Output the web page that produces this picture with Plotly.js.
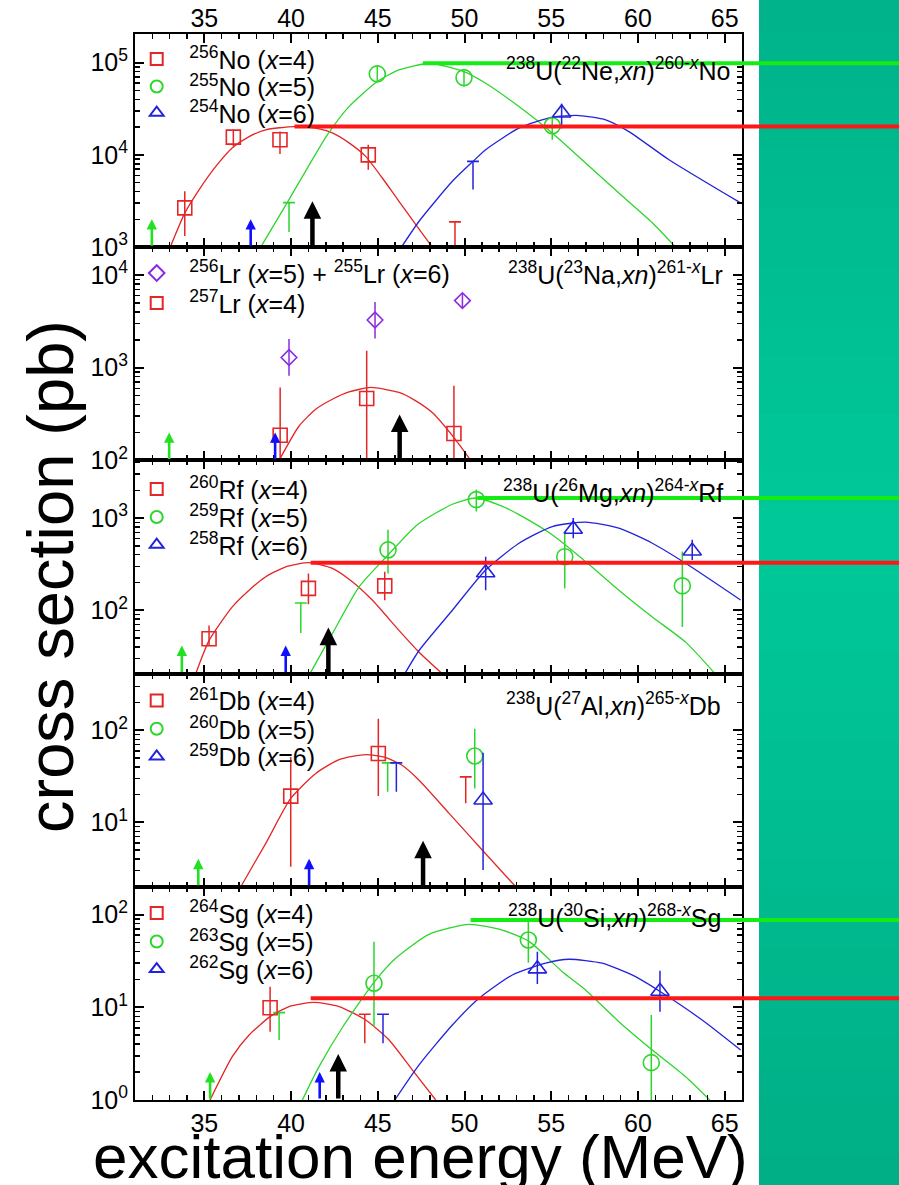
<!DOCTYPE html>
<html><head><meta charset="utf-8">
<script src="https://cdn.plot.ly/plotly-3.0.1.min.js"></script>
<style>html,body{margin:0;padding:0;background:#fff}#chart{width:899px;height:1185px}</style>
</head><body><div id="chart"></div>
<script>
// ================= DATA =================
// x axis (excitation energy, MeV)
const xTickVals = [35, 40, 45, 50, 55, 60, 65];

// Panel 1: 238U(22Ne,xn)260-xNo
const no256_E = [33.87, 36.67, 39.36, 44.45];
const no256_sig = [2670, 15600, 14600, 10000];
const no256_hi = [4030, 18700, 17900, 12900];
const no256_lo = [1320, 12400, 10200, 6920];
const no256_limE = [49.45], no256_lim = [1880], no256_limLo = [900];
const no255_E = [44.97, 49.97, 55.06];
const no255_sig = [75500, 68800, 20700];
const no255_hi = [90600, 82000, 25100];
const no255_lo = [62400, 55100, 14600];
const no255_limE = [39.88], no255_lim = [3040], no255_limLo = [1460];
const no254_E = [55.6];
const no254_sig = [28500];
const no254_hi = [35800];
const no254_lo = [19500];
const no254_limE = [50.49], no254_lim = [8510], no254_limLo = [4210];
const no256_fitE = [33.03, 33.87, 34.7, 35.66, 36.6, 37.58, 38.54, 40.17, 41.42, 42.38, 43.34, 44.3, 45.26, 46.22, 47.19, 48.14];
const no256_fit = [1000, 2340, 4210, 7520, 11900, 15800, 18700, 20300, 19500, 17300, 13500, 9640, 5620, 3140, 1760, 1000];
const no255_fitE = [38.25, 39.88, 42.09, 43.34, 44.97, 46.22, 48.0, 49.97, 51.22, 53.14, 55.06, 56.98, 58.9, 60.83, 62.17];
const no255_fit = [1000, 3280, 16500, 33400, 62400, 83400, 98400, 80000, 59800, 33400, 17300, 8170, 3870, 1840, 1000];
const no254_fitE = [46.36, 47.38, 49.3, 50.49, 51.22, 53.14, 55.06, 56.6, 58.14, 59.48, 61.79, 65.92];
const no254_fit = [1000, 1910, 5180, 8510, 11400, 19500, 25700, 26700, 24000, 17900, 8870, 3020];
const no256_maxE = 40.2, no256_max = 20300;
const no255_maxE = 47.6, no255_max = 98400;
const no_arrowE = [31.97, 37.67, 41.23];

// Panel 2: 238U(23Na,xn)261-xLr
const lr256_E = [39.88, 44.84, 49.88];
const lr256_sig = [1290, 3270, 5300];
const lr256_hi = [2040, 5100, 6300];
const lr256_lo = [817, 2070, 4460];
const lr257_E = [39.37, 44.36, 49.39];
const lr257_sig = [187, 466, 195];
const lr257_hi = [612, 1520, 637];
const lr257_lo = [60, 60, 60];
const lr257_fitE = [39.31, 40.46, 41.42, 42.38, 43.34, 44.59, 46.22, 47.19, 48.14, 49.39, 50.36];
const lr257_fit = [100, 235, 356, 457, 548, 612, 541, 439, 328, 176, 100];
const lr_arrowE = [32.97, 39.08, 46.26];

// Panel 3: 238U(26Mg,xn)264-xRf
const rf260_E = [35.27, 41.0, 45.4];
const rf260_sig = [49.1, 172.5, 184];
const rf260_hi = [68.5, 251, 262];
const rf260_lo = [41.5, 116, 128];
const rf259_E = [45.59, 50.68, 55.78, 62.56];
const rf259_sig = [451, 1585, 381, 184];
const rf259_hi = [745, 2040, 714, 433];
const rf259_lo = [251, 1180, 172, 65.8];
const rf259_limE = [40.56], rf259_lim = [120], rf259_limLo = [56.5];
const rf258_E = [51.22, 56.27, 63.13];
const rf258_sig = [255, 757, 439];
const rf258_hi = [381, 1000, 580];
const rf258_lo = [165, 605, 351];
const rf260_fitE = [34.5, 35.27, 36.61, 37.58, 38.54, 39.69, 41.04, 42.38, 43.53, 44.68, 46.22, 47.38, 48.73];
const rf260_fit = [20.4, 47.1, 109, 165, 231, 296, 328, 285, 204, 129, 60.5, 35.1, 20.4];
const rf259_fitE = [41.08, 42.38, 43.92, 45.59, 47.3, 49.3, 50.65, 52.18, 53.14, 55.06, 56.98, 58.9, 60.83, 62.75, 64.38];
const rf259_fit = [20.4, 55.7, 179, 398, 851, 1410, 1650, 1340, 1090, 658, 337, 165, 84.5, 45.1, 21.2];
const rf258_fitE = [46.55, 47.38, 49.3, 51.22, 53.14, 55.06, 56.98, 58.9, 60.83, 62.75, 65.92];
const rf258_fit = [20.4, 36.6, 100, 273, 533, 809, 904, 776, 533, 323, 129];
const rf260_maxE = 41.13, rf260_max = 328;
const rf259_maxE = 50.74, rf259_max = 1650;
const rf_arrowE = [33.70, 39.69, 42.15];

// Panel 4: 238U(27Al,xn)265-xDb
const db261_E = [39.98, 45.03];
const db261_sig = [19.3, 56];
const db261_hi = [51.4, 134];
const db261_lo = [3.3, 19.3];
const db261_limE = [50.07], db261_lim = [31.2], db261_limLo = [16.1];
const db260_E = [50.59];
const db260_sig = [52.7];
const db260_hi = [104];
const db260_lo = [23.3];
const db260_limE = [45.57], db260_lim = [44.3], db260_limLo = [21.5];
const db259_E = [51.07];
const db259_sig = [17.5];
const db259_hi = [57.3];
const db259_lo = [3.04];
const db259_limE = [46.07], db259_lim = [44.3], db259_limLo = [21.5];
const db261_fitE = [37.1, 38.54, 39.98, 41.42, 42.77, 44.3, 45.46, 46.4, 47.38, 49.1, 51.02, 52.95];
const db261_fit = [2.0, 5.92, 18.2, 34.0, 48.2, 54.6, 50.6, 41.7, 28.7, 12.6, 5.01, 2.0];
const db_arrowE = [34.65, 41.04, 47.61];

// Panel 5: 238U(30Si,xn)268-xSg
const sg264_E = [38.79];
const sg264_sig = [9.9];
const sg264_hi = [16.7];
const sg264_lo = [5.46];
const sg264_limE = [44.25], sg264_lim = [8.4], sg264_limLo = [4.09];
const sg263_E = [44.78, 53.68, 60.77];
const sg263_sig = [18.2, 53.2, 2.53];
const sg263_hi = [51, 83.8, 8.26];
const sg263_lo = [6.18, 30.3, 0.5];
const sg263_limE = [39.31], sg263_lim = [8.77], sg263_limLo = [4.44];
const sg262_E = [54.2, 61.27];
const sg262_sig = [26.0, 14.9];
const sg262_hi = [39.8, 24.8];
const sg262_lo = [17.8, 8.98];
const sg262_limE = [45.3], sg262_lim = [8.4], sg262_limLo = [4.09];
const sg264_fitE = [35.33, 36.61, 37.58, 38.79, 39.88, 41.32, 42.77, 44.3, 45.65, 46.99, 48.34];
const sg264_fit = [1.0, 2.93, 5.02, 7.93, 10.2, 11.3, 10.2, 7.29, 4.44, 2.11, 1.0];
const sg263_fitE = [40.65, 41.61, 43.05, 44.78, 46.03, 47.95, 50.26, 52.18, 53.74, 55.64, 56.98, 58.9, 60.83, 62.75, 64.14];
const sg263_fit = [1.0, 2.29, 6.44, 18.6, 33.8, 61.2, 78.5, 68.2, 51.1, 24.2, 15.4, 7.0, 3.46, 1.78, 1.0];
const sg262_fitE = [45.98, 47.38, 49.3, 50.84, 52.76, 54.68, 56.02, 57.94, 59.86, 61.3, 63.7, 65.92];
const sg262_fit = [1.0, 2.39, 6.44, 12.5, 22.3, 29.9, 33.0, 29.9, 21.4, 14.7, 7.29, 3.46];
const sg264_maxE = 41.13, sg264_max = 12.5;
const sg263_maxE = 50.35, sg263_max = 87.5;
const sg_arrowE = [35.33, 41.65, 42.72];

// y tick values / labels per panel
const yTickVals1 = [1e3, 1e4, 1e5], yTickText1 = ['10<sup>3</sup>', '10<sup>4</sup>', '10<sup>5</sup>'];
const yTickVals2 = [1e2, 1e3, 1e4], yTickText2 = ['10<sup>2</sup>', '10<sup>3</sup>', '10<sup>4</sup>'];
const yTickVals3 = [1e2, 1e3], yTickText3 = ['10<sup>2</sup>', '10<sup>3</sup>'];
const yTickVals4 = [1e1, 1e2], yTickText4 = ['10<sup>1</sup>', '10<sup>2</sup>'];
const yTickVals5 = [1, 1e1, 1e2], yTickText5 = ['10<sup>0</sup>', '10<sup>1</sup>', '10<sup>2</sup>'];

// ================= STYLE / LAYOUT =================
const FONT = 'Arial, "Liberation Sans", Helvetica, sans-serif';
const RED = '#e32626', GREEN = '#2cd62c', BLUE = '#2323dc', PURPLE = '#8a2be2';
const RED_BAR = '#ff1616', GREEN_BAR = '#14ec14';
const ARROW_GREEN = '#22e022', ARROW_BLUE = '#1010ff', ARROW_BLACK = '#000000';
const W = 899, H = 1185, ML = 135, MR = 0, MT = 34, MB = 85, PLOT_RIGHT = 742;
const plotFrac = (PLOT_RIGHT - ML) / (W - ML - MR);
const xRange = [31, 66];
const x6Range = [xRange[0], xRange[0] + (xRange[1] - xRange[0]) / plotFrac];
const yDomains = [[0.8, 1], [0.6, 0.8], [0.4, 0.6], [0.2, 0.4], [0, 0.2]];
const yRanges = [[3, 5.31], [2, 4.30], [1.313, 3.625], [0.30, 2.617], [0, 2.30]];
const paperH = H - MT - MB, paperW = W - ML - MR;
const px2py = p => (H - MB - p) / paperH;
const px2px = p => (p - ML) / paperW;

const xa = k => k === 1 ? 'x' : 'x' + k;
const ya = k => k === 1 ? 'y' : 'y' + k;
const lg = k => k === 1 ? 'legend' : 'legend' + k;

function pts(k, E, sig, hi, lo, name, sym, size, color, legK) {
  return {
    type: 'scatter', mode: 'markers', x: E, y: sig, name: name,
    xaxis: xa(k), yaxis: ya(k), legend: lg(legK), showlegend: true,
    marker: { symbol: sym, size: size, color: color, line: { color: color, width: 1.6 } },
    error_y: {
      type: 'data', symmetric: false,
      array: hi.map((h, i) => h - sig[i]),
      arrayminus: lo.map((l, i) => sig[i] - l),
      width: 0, thickness: 1.5, color: color
    }
  };
}
function lim(k, E, v, lo, color) {
  return {
    type: 'scatter', mode: 'markers', x: E, y: v, xaxis: xa(k), yaxis: ya(k), showlegend: false,
    marker: { symbol: 'line-ew', size: 8.5, color: color, line: { color: color, width: 1.6 } },
    error_y: {
      type: 'data', symmetric: false, array: E.map(() => 0),
      arrayminus: lo.map((l, i) => v[i] - l), width: 0, thickness: 1.5, color: color
    }
  };
}
function fit(k, E, v, color) {
  return {
    type: 'scatter', mode: 'lines', x: E, y: v, xaxis: xa(k), yaxis: ya(k), showlegend: false,
    line: { color: color, width: 1.3, shape: 'spline', smoothing: 0.6 }
  };
}
function maxLine(k, E0, v, color) {
  return {
    type: 'scatter', mode: 'lines', x: [E0, x6Range[1]], y: [v, v], xaxis: 'x6', yaxis: ya(k),
    showlegend: false, line: { color: color, width: 4 }
  };
}

const traces = [
  // panel 1
  fit(1, no256_fitE, no256_fit, RED), fit(1, no255_fitE, no255_fit, GREEN), fit(1, no254_fitE, no254_fit, BLUE),
  lim(1, no256_limE, no256_lim, no256_limLo, RED), lim(1, no255_limE, no255_lim, no255_limLo, GREEN), lim(1, no254_limE, no254_lim, no254_limLo, BLUE),
  pts(1, no256_E, no256_sig, no256_hi, no256_lo, '<sup>256</sup>No (<i>x</i>=4)', 'square-open', 14, RED, 1),
  pts(1, no255_E, no255_sig, no255_hi, no255_lo, '<sup>255</sup>No (<i>x</i>=5)', 'circle-open', 16, GREEN, 2),
  pts(1, no254_E, no254_sig, no254_hi, no254_lo, '<sup>254</sup>No (<i>x</i>=6)', 'triangle-up-open', 16, BLUE, 3),
  // panel 2
  fit(2, lr257_fitE, lr257_fit, RED),
  pts(2, lr256_E, lr256_sig, lr256_hi, lr256_lo, '<sup>256</sup>Lr (<i>x</i>=5) + <sup>255</sup>Lr (<i>x</i>=6)', 'diamond-open', 12, PURPLE, 4),
  pts(2, lr257_E, lr257_sig, lr257_hi, lr257_lo, '<sup>257</sup>Lr (<i>x</i>=4)', 'square-open', 14, RED, 5),
  // panel 3
  fit(3, rf260_fitE, rf260_fit, RED), fit(3, rf259_fitE, rf259_fit, GREEN), fit(3, rf258_fitE, rf258_fit, BLUE),
  lim(3, rf259_limE, rf259_lim, rf259_limLo, GREEN),
  pts(3, rf260_E, rf260_sig, rf260_hi, rf260_lo, '<sup>260</sup>Rf (<i>x</i>=4)', 'square-open', 14, RED, 6),
  pts(3, rf259_E, rf259_sig, rf259_hi, rf259_lo, '<sup>259</sup>Rf (<i>x</i>=5)', 'circle-open', 16, GREEN, 7),
  pts(3, rf258_E, rf258_sig, rf258_hi, rf258_lo, '<sup>258</sup>Rf (<i>x</i>=6)', 'triangle-up-open', 16, BLUE, 8),
  // panel 4
  fit(4, db261_fitE, db261_fit, RED),
  lim(4, db261_limE, db261_lim, db261_limLo, RED), lim(4, db260_limE, db260_lim, db260_limLo, GREEN), lim(4, db259_limE, db259_lim, db259_limLo, BLUE),
  pts(4, db261_E, db261_sig, db261_hi, db261_lo, '<sup>261</sup>Db (<i>x</i>=4)', 'square-open', 14, RED, 9),
  pts(4, db260_E, db260_sig, db260_hi, db260_lo, '<sup>260</sup>Db (<i>x</i>=5)', 'circle-open', 16, GREEN, 10),
  pts(4, db259_E, db259_sig, db259_hi, db259_lo, '<sup>259</sup>Db (<i>x</i>=6)', 'triangle-up-open', 16, BLUE, 11),
  // panel 5
  fit(5, sg264_fitE, sg264_fit, RED), fit(5, sg263_fitE, sg263_fit, GREEN), fit(5, sg262_fitE, sg262_fit, BLUE),
  lim(5, sg264_limE, sg264_lim, sg264_limLo, RED), lim(5, sg263_limE, sg263_lim, sg263_limLo, GREEN), lim(5, sg262_limE, sg262_lim, sg262_limLo, BLUE),
  pts(5, sg264_E, sg264_sig, sg264_hi, sg264_lo, '<sup>264</sup>Sg (<i>x</i>=4)', 'square-open', 14, RED, 12),
  pts(5, sg263_E, sg263_sig, sg263_hi, sg263_lo, '<sup>263</sup>Sg (<i>x</i>=5)', 'circle-open', 16, GREEN, 13),
  pts(5, sg262_E, sg262_sig, sg262_hi, sg262_lo, '<sup>262</sup>Sg (<i>x</i>=6)', 'triangle-up-open', 16, BLUE, 14),
  // peak lines reaching to the right edge
  maxLine(1, no256_maxE, no256_max, RED_BAR), maxLine(1, no255_maxE, no255_max, GREEN_BAR),
  maxLine(3, rf260_maxE, rf260_max, RED_BAR), maxLine(3, rf259_maxE, rf259_max, GREEN_BAR),
  maxLine(5, sg264_maxE, sg264_max, RED_BAR), maxLine(5, sg263_maxE, sg263_max, GREEN_BAR)
];

const layout = {
  width: W, height: H,
  margin: { l: ML, r: MR, t: MT, b: MB, pad: 0 },
  paper_bgcolor: '#ffffff', plot_bgcolor: 'rgba(0,0,0,0)',
  font: { family: FONT, color: '#000', size: 25 },
  hovermode: false, showlegend: true,
  annotations: [], shapes: []
};

function minorVals(r) {
  const out = [];
  for (let d = Math.floor(r[0]); d <= Math.ceil(r[1]); d++) for (let m = 2; m <= 9; m++) out.push(m * Math.pow(10, d));
  return out;
}
const yTickValsAll = [yTickVals1, yTickVals2, yTickVals3, yTickVals4, yTickVals5];
const yTickTextAll = [yTickText1, yTickText2, yTickText3, yTickText4, yTickText5];

for (let k = 1; k <= 5; k++) {
  const xk = {
    domain: [0, plotFrac], range: xRange, anchor: ya(k),
    tickmode: 'array', tickvals: xTickVals,
    ticks: 'inside', ticklen: 9, tickwidth: 2, tickcolor: '#000',
    showline: true, linewidth: 2, linecolor: '#000', mirror: 'ticks',
    showgrid: false, zeroline: false,
    minor: { tick0: 0, dtick: 1, ticks: 'inside', ticklen: 5, tickwidth: 1.5, tickcolor: '#000', showgrid: false },
    tickfont: { size: 25, family: FONT }, showticklabels: false
  };
  if (k === 1) { xk.side = 'top'; xk.showticklabels = true; xk.ticklabelstandoff = -5; }
  if (k === 5) { xk.side = 'bottom'; xk.showticklabels = true; }
  layout['xaxis' + (k === 1 ? '' : k)] = xk;

  const yk = {
    type: 'log', domain: yDomains[k - 1], range: yRanges[k - 1], anchor: xa(k),
    tickmode: 'array', tickvals: yTickValsAll[k - 1], ticktext: yTickTextAll[k - 1],
    ticks: 'inside', ticklen: 9, tickwidth: 2, tickcolor: '#000',
    showline: true, linewidth: 2, linecolor: '#000', mirror: 'ticks',
    showgrid: false, zeroline: false,
    minor: { tickmode: 'array', tickvals: minorVals(yRanges[k - 1]), ticks: 'inside', ticklen: 5, tickwidth: 1.5, tickcolor: '#000', showgrid: false },
    tickfont: { size: 25, family: FONT }
  };
  layout['yaxis' + (k === 1 ? '' : k)] = yk;
}
layout.xaxis6 = { domain: [0, 1], range: x6Range, anchor: 'y', visible: false, showgrid: false, zeroline: false };

// axis titles, placed where the original puts them
layout.annotations.push({
  xref: 'paper', yref: 'paper', x: px2px(420), y: px2py(1156), xanchor: 'center', yanchor: 'middle',
  text: 'excitation energy (MeV)', showarrow: false, font: { size: 62, family: FONT, color: '#000' }
});
layout.annotations.push({
  xref: 'paper', yref: 'paper', x: px2px(50), y: px2py(577), xanchor: 'center', yanchor: 'middle',
  text: 'cross section (pb)', textangle: -90, showarrow: false, font: { size: 65, family: FONT, color: '#000' }
});

// legends: one per row so rows sit where the original puts them
const legendRowsPx = [59.3, 86.7, 113, 273.3, 303.3, 489.3, 517.3, 545, 700.7, 729, 756.7, 913.3, 941.7, 969.3];
const legendSymbolPx = 156.7;
const ITEMW = 55;
legendRowsPx.forEach((py, i) => {
  layout[lg(i + 1)] = {
    x: px2px(legendSymbolPx - (ITEMW + 10) / 2), xanchor: 'left',
    y: px2py(py), yanchor: 'middle',
    bgcolor: 'rgba(0,0,0,0)', borderwidth: 0,
    font: { size: 25, family: FONT, color: '#000' },
    itemsizing: 'constant', itemwidth: ITEMW
  };
});

// reaction labels
const reactionText = [
  '<sup>238</sup>U(<sup>22</sup>Ne,<i>xn</i>)<sup>260-<i>x</i></sup>No',
  '<sup>238</sup>U(<sup>23</sup>Na,<i>xn</i>)<sup>261-<i>x</i></sup>Lr',
  '<sup>238</sup>U(<sup>26</sup>Mg,<i>xn</i>)<sup>264-<i>x</i></sup>Rf',
  '<sup>238</sup>U(<sup>27</sup>Al,<i>xn</i>)<sup>265-<i>x</i></sup>Db',
  '<sup>238</sup>U(<sup>30</sup>Si,<i>xn</i>)<sup>268-<i>x</i></sup>Sg'
];
const reactionPos = [[732, 69], [725, 273], [725, 491], [723, 704], [723, 916]];
reactionText.forEach((t, i) => {
  layout.annotations.push({
    xref: 'paper', yref: 'paper', x: px2px(reactionPos[i][0]), y: px2py(reactionPos[i][1]),
    xanchor: 'right', yanchor: 'middle', text: t, showarrow: false,
    font: { size: 25, family: FONT, color: '#000' }
  });
});

// threshold arrows (green, blue, black) rising from the bottom axis
const arrowEAll = [no_arrowE, lr_arrowE, rf_arrowE, db_arrowE, sg_arrowE];
const arrowStyle = [
  { color: ARROW_GREEN, len: 28, w: 2.6, s: 0.8 },
  { color: ARROW_BLUE, len: 28, w: 2.6, s: 0.8 },
  { color: ARROW_BLACK, len: 46, w: 4.5, s: 0.78 }
];
const panelPxH = paperH * 0.2;
arrowEAll.forEach((arr, i) => {
  const k = i + 1;
  arr.forEach((E, j) => {
    const st = arrowStyle[j];
    layout.annotations.push({
      xref: xa(k), yref: ya(k) + ' domain', x: E, y: st.len / panelPxH,
      axref: 'pixel', ayref: 'pixel', ax: 0, ay: st.len,
      text: '', showarrow: true, arrowhead: 2, arrowsize: st.s, arrowwidth: st.w,
      arrowcolor: st.color, standoff: 0, startstandoff: 0
    });
  });
});

// teal band on the right (vertical gradient approximated by stripes)
const tealStops = [[0, [0, 178, 138]], [0.45, [0, 201, 153]], [1, [0, 174, 134]]];
function tealAt(t) {
  for (let i = 0; i < tealStops.length - 1; i++) {
    const a = tealStops[i], b = tealStops[i + 1];
    if (t <= b[0]) {
      const f = (t - a[0]) / (b[0] - a[0]);
      const c = a[1].map((v, n) => Math.round(v + (b[1][n] - v) * f));
      return 'rgb(' + c.join(',') + ')';
    }
  }
  return 'rgb(' + tealStops[tealStops.length - 1][1].join(',') + ')';
}
const NSTRIPE = 40, BAND_LEFT = 759;
for (let i = 0; i < NSTRIPE; i++) {
  const top = i * H / NSTRIPE, bot = (i + 1) * H / NSTRIPE + 1;
  layout.shapes.push({
    type: 'rect', xref: 'paper', yref: 'paper', layer: 'below',
    x0: px2px(BAND_LEFT), x1: 1, y0: px2py(bot), y1: px2py(top),
    fillcolor: tealAt((i + 0.5) / NSTRIPE), line: { width: 0 }
  });
}

Plotly.newPlot('chart', traces, layout, { staticPlot: true, displayModeBar: false });
</script></body></html>
